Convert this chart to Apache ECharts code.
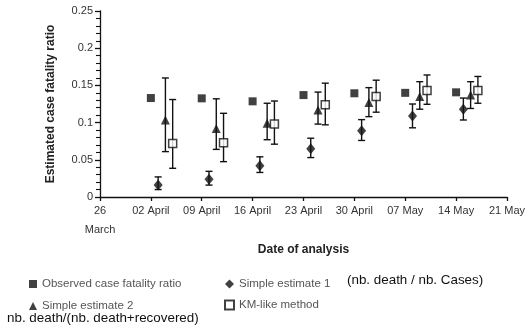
<!DOCTYPE html>
<html>
<head>
<meta charset="utf-8">
<script src="https://cdn.jsdelivr.net/npm/echarts@6/dist/echarts.min.js"></script>
<style>
  html, body { margin: 0; padding: 0; background: #fff; }
  #chart { width: 528px; height: 331px; }
</style>
</head>
<body>
<div id="chart"></div>
<script>
// Axis tick labels (days since 26 March, one per week)
const tickLabels = ['26\nMarch', '02 April', '09 April', '16 April', '23 April', '30 April', '07 May', '14 May', '21 May'];

// Day of each analysis (days after 26 March); estimates are drawn slightly staggered
const observedDay = [7, 14, 21, 28, 35, 42, 49];
const est1Day = [8, 15, 22, 29, 36, 43, 50];
const est2Day = [9, 16, 23, 30, 37, 44, 51];
const kmDay = [10, 17, 24, 31, 38, 45, 52];

// Observed case fatality ratio
const observed = [0.133, 0.1326, 0.1286, 0.137, 0.1394, 0.140, 0.1407];

// Simple estimate 1 with 95% interval
const est1 = [0.016, 0.024, 0.042, 0.065, 0.089, 0.109, 0.118];
const est1Low = [0.010, 0.016, 0.033, 0.053, 0.076, 0.093, 0.1035];
const est1High = [0.027, 0.0345, 0.054, 0.079, 0.104, 0.125, 0.133];

// Simple estimate 2 with 95% interval
const est2 = [0.1035, 0.092, 0.099, 0.117, 0.127, 0.135, 0.137];
const est2Low = [0.061, 0.064, 0.077, 0.098, 0.108, 0.118, 0.119];
const est2High = [0.160, 0.132, 0.126, 0.141, 0.147, 0.155, 0.155];

// KM-like method with 95% interval
const km = [0.072, 0.073, 0.098, 0.124, 0.135, 0.143, 0.143];
const kmLow = [0.0386, 0.0475, 0.071, 0.097, 0.114, 0.1246, 0.126];
const kmHigh = [0.131, 0.1125, 0.129, 0.153, 0.157, 0.164, 0.162];

const FONT = '"Liberation Sans", Arial, sans-serif';

function pairs(xs, ys) { return xs.map((x, i) => [x, ys[i]]); }
function bars(xs, lo, hi) { return xs.map((x, i) => [x, lo[i], hi[i]]); }

function errorBar(params, api) {
  const x = api.value(0);
  const lo = api.coord([x, api.value(1)]);
  const hi = api.coord([x, api.value(2)]);
  const cap = 3.5;
  const style = { stroke: '#111', lineWidth: 1.4 };
  return {
    type: 'group',
    children: [
      { type: 'line', shape: { x1: lo[0], y1: lo[1], x2: hi[0], y2: hi[1] }, style: style },
      { type: 'line', shape: { x1: lo[0] - cap, y1: lo[1], x2: lo[0] + cap, y2: lo[1] }, style: style },
      { type: 'line', shape: { x1: hi[0] - cap, y1: hi[1], x2: hi[0] + cap, y2: hi[1] }, style: style }
    ]
  };
}

function errSeries(xs, lo, hi) {
  return {
    type: 'custom',
    renderItem: errorBar,
    data: bars(xs, lo, hi),
    encode: { x: 0, y: [1, 2] },
    silent: true,
    z: 1
  };
}

const chart = echarts.init(document.getElementById('chart'), null, { renderer: 'canvas' });

const legendText = { fontFamily: FONT, fontSize: 11.5, color: '#555' };

chart.setOption({
  animation: false,
  backgroundColor: '#fff',
  grid: { left: 100, right: 19, top: 11, bottom: 134 },
  xAxis: {
    type: 'value',
    min: 0,
    max: 56,
    interval: 7,
    axisLine: { lineStyle: { color: '#111', width: 1.3 } },
    axisTick: { show: true, length: 4, lineStyle: { color: '#111', width: 1.3 } },
    splitLine: { show: false },
    axisLabel: {
      fontFamily: FONT,
      fontSize: 11,
      color: '#333',
      margin: 4,
      lineHeight: 19,
      formatter: function (v) { return tickLabels[Math.round(v / 7)]; }
    },
    name: 'Date of analysis',
    nameLocation: 'middle',
    nameGap: 44,
    nameTextStyle: { fontFamily: FONT, fontSize: 12, fontWeight: 'bold', color: '#222' }
  },
  yAxis: {
    type: 'value',
    min: 0,
    max: 0.25,
    interval: 0.05,
    axisLine: { show: true, lineStyle: { color: '#111', width: 1.3 } },
    axisTick: { show: true, length: 5, lineStyle: { color: '#111', width: 1.3 } },
    minorTick: { show: true, splitNumber: 5, length: 4, lineStyle: { color: '#111', width: 1.1 } },
    splitLine: { show: false },
    axisLabel: { fontFamily: FONT, fontSize: 11, color: '#333', margin: 7 },
    name: 'Estimated case fatality ratio',
    nameLocation: 'middle',
    nameGap: 43,
    nameTextStyle: { fontFamily: FONT, fontSize: 12, fontWeight: 'bold', color: '#222' }
  },
  legend: [
    {
      data: ['Observed case fatality ratio', 'Simple estimate 2'],
      orient: 'vertical',
      left: 24,
      top: 273,
      itemWidth: 8,
      itemHeight: 8,
      itemGap: 10,
      textStyle: legendText
    },
    {
      data: [{ name: 'Simple estimate 1', itemStyle: { color: '#111' } }, 'KM-like method'],
      orient: 'vertical',
      left: 219,
      top: 273,
      itemWidth: 9,
      itemHeight: 9,
      itemGap: 9,
      textStyle: legendText
    }
  ],
  graphic: [
    {
      type: 'text',
      left: 347,
      top: 274,
      style: { text: '(nb. death / nb. Cases)', fontFamily: FONT, fontSize: 13.4, fill: '#111' }
    },
    {
      type: 'text',
      left: 7,
      top: 312,
      style: { text: 'nb. death/(nb. death+recovered)', fontFamily: FONT, fontSize: 13.4, fill: '#111' }
    }
  ],
  series: [
    errSeries(est1Day, est1Low, est1High),
    errSeries(est2Day, est2Low, est2High),
    errSeries(kmDay, kmLow, kmHigh),
    {
      name: 'Observed case fatality ratio',
      type: 'scatter',
      symbol: 'rect',
      symbolSize: 8,
      itemStyle: { color: '#111' },
      data: pairs(observedDay, observed),
      z: 3
    },
    {
      name: 'Simple estimate 1',
      type: 'scatter',
      symbol: 'diamond',
      symbolSize: [9, 11],
      itemStyle: { color: '#111' },
      data: pairs(est1Day, est1),
      z: 3
    },
    {
      name: 'Simple estimate 2',
      type: 'scatter',
      symbol: 'triangle',
      symbolSize: 9,
      itemStyle: { color: '#111' },
      data: pairs(est2Day, est2),
      z: 3
    },
    {
      name: 'KM-like method',
      type: 'scatter',
      symbol: 'rect',
      symbolSize: 8,
      itemStyle: { color: '#fff', borderColor: '#111', borderWidth: 1.5 },
      data: pairs(kmDay, km),
      z: 3
    }
  ]
});
</script>
</body>
</html>
